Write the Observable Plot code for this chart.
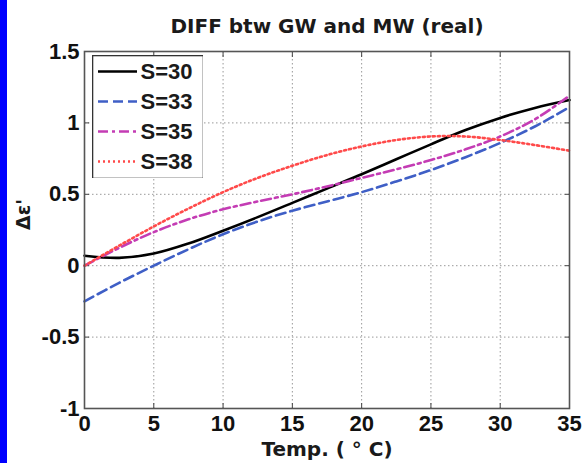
<!DOCTYPE html>
<html><head><meta charset="utf-8">
<script src="https://cdn.jsdelivr.net/npm/d3@7"></script>
<script src="https://cdn.jsdelivr.net/npm/@observablehq/plot@0.6"></script>
<style>
body{margin:0;background:#fff;}
#wrap{position:relative;width:584px;height:463px;overflow:hidden;background:#fff;}
#strip{position:absolute;left:0;top:0;width:7px;height:463px;background:#0000ff;}
#legend{position:absolute;left:92px;top:55px;}
#chart svg, #legend svg{display:block;}
</style></head><body>
<div id="wrap"><div id="chart"></div><div id="strip"></div><div id="legend"></div></div>
<script>
const temps = [0, 2.5, 5, 7.5, 10, 12.5, 15, 17.5, 20, 22.5, 25, 27.5, 30, 32.5, 35];
const s30 = [0.07, 0.055, 0.085, 0.155, 0.245, 0.34, 0.44, 0.54, 0.64, 0.745, 0.85, 0.95, 1.035, 1.105, 1.16];
const s33 = [-0.25, -0.12, 0.0, 0.115, 0.22, 0.31, 0.385, 0.45, 0.515, 0.59, 0.67, 0.76, 0.86, 0.975, 1.11];
const s35 = [0.0, 0.125, 0.235, 0.325, 0.395, 0.45, 0.50, 0.555, 0.615, 0.675, 0.74, 0.815, 0.905, 1.025, 1.19];
const s38 = [0.0, 0.14, 0.275, 0.40, 0.515, 0.615, 0.70, 0.775, 0.835, 0.88, 0.905, 0.905, 0.88, 0.845, 0.805];
const seriesNames = ["S=30", "S=33", "S=35", "S=38"];
const seriesValues = [s30, s33, s35, s38];
const seriesColors = ["#000000", "#3f5fc6", "#c43cb4", "#ff4a4a"];
const seriesDash = [null, "10,5", "10,4,3,4", "2,3"];
const xTicks = [0, 5, 10, 15, 20, 25, 30, 35];
const yTicks = [-1, -0.5, 0, 0.5, 1, 1.5];
const titleText = "DIFF btw GW and MW (real)";
const xLabelText = "Temp. ( \u00b0 C)";
const yLabelText = "\u0394\u03b5'";

const font = "'Liberation Sans', Arial, Helvetica, sans-serif";
const wideFont = "'DejaVu Sans', Verdana, sans-serif";
const rows = seriesNames.map((name, k) => temps.map((t, i) => ({name, t, v: seriesValues[k][i]})));

const lineMarks = rows.map((r, k) => Plot.line(r, {
  x: "t", y: "v", stroke: seriesColors[k], strokeWidth: 2.6,
  strokeDasharray: seriesDash[k] || undefined, curve: "catmull-rom"
}));

const chart = Plot.plot({
  width: 584, height: 463,
  marginLeft: 84, marginRight: 15, marginTop: 51, marginBottom: 55,
  style: {fontFamily: font, fontWeight: "bold", fontSize: "22px", color: "#111", background: "#fff"},
  x: {domain: [0, 35], ticks: xTicks},
  y: {domain: [-1, 1.5], ticks: yTicks},
  marks: [
    Plot.gridX(xTicks, {stroke: "#999", strokeOpacity: 1, strokeWidth: 1, strokeDasharray: "1.5,2.5"}),
    Plot.gridY(yTicks, {stroke: "#999", strokeOpacity: 1, strokeWidth: 1, strokeDasharray: "1.5,2.5"}),
    Plot.axisX(xTicks, {anchor: "bottom", tickSize: 0, tickPadding: 7, tickFormat: d => String(d), label: null, fill: "#111"}),
    Plot.axisY(yTicks, {anchor: "left", tickSize: 0, tickPadding: 5, tickFormat: d => String(d), label: null, fill: "#111"}),
    Plot.axisX(xTicks, {anchor: "bottom", tickSize: -5, text: null, label: null, stroke: "#444"}),
    Plot.axisX(xTicks, {anchor: "top", tickSize: -5, text: null, label: null, stroke: "#444"}),
    Plot.axisY(yTicks, {anchor: "left", tickSize: -5, text: null, label: null, stroke: "#444"}),
    Plot.axisY(yTicks, {anchor: "right", tickSize: -5, text: null, label: null, stroke: "#444"}),
    ...lineMarks,
    Plot.frame({stroke: "#555", strokeWidth: 1.6}),
    Plot.text([titleText], {frameAnchor: "top", lineAnchor: "middle", dy: -25, fontSize: 20, fontWeight: "bold", fontFamily: wideFont, fill: "#1a1a1a", text: d => d}),
    Plot.text([xLabelText], {frameAnchor: "bottom", lineAnchor: "middle", dy: 41, fontSize: 20, fontWeight: "bold", fontFamily: wideFont, fill: "#1a1a1a", text: d => d}),
    Plot.text([yLabelText], {frameAnchor: "left", lineAnchor: "middle", dx: -61, rotate: -90, fontSize: 19, fontWeight: "bold", fontFamily: wideFont, fill: "#1a1a1a", text: d => d})
  ]
});
document.getElementById("chart").appendChild(chart);

const legendMarks = [];
seriesNames.forEach((name, k) => {
  legendMarks.push(Plot.ruleY([name], {y: d => d, x1: 0, x2: 1, stroke: seriesColors[k], strokeWidth: 2.6, strokeDasharray: seriesDash[k] || undefined}));
});
legendMarks.push(Plot.text(seriesNames, {x: 1, y: d => d, text: d => d, dx: 3, textAnchor: "start", fontSize: 22, fontWeight: "bold", fill: "#1a1a1a"}));
legendMarks.push(Plot.frame({stroke: "#333", strokeWidth: 1.6}));
const legend = Plot.plot({
  width: 111, height: 123, margin: 0,
  style: {fontFamily: font, background: "#fff"},
  x: {domain: [0, 1], range: [6, 45], axis: null},
  y: {type: "point", domain: seriesNames, range: [15, 107], padding: 0, axis: null},
  marks: legendMarks
});
document.getElementById("legend").appendChild(legend);
</script>
</body></html>
